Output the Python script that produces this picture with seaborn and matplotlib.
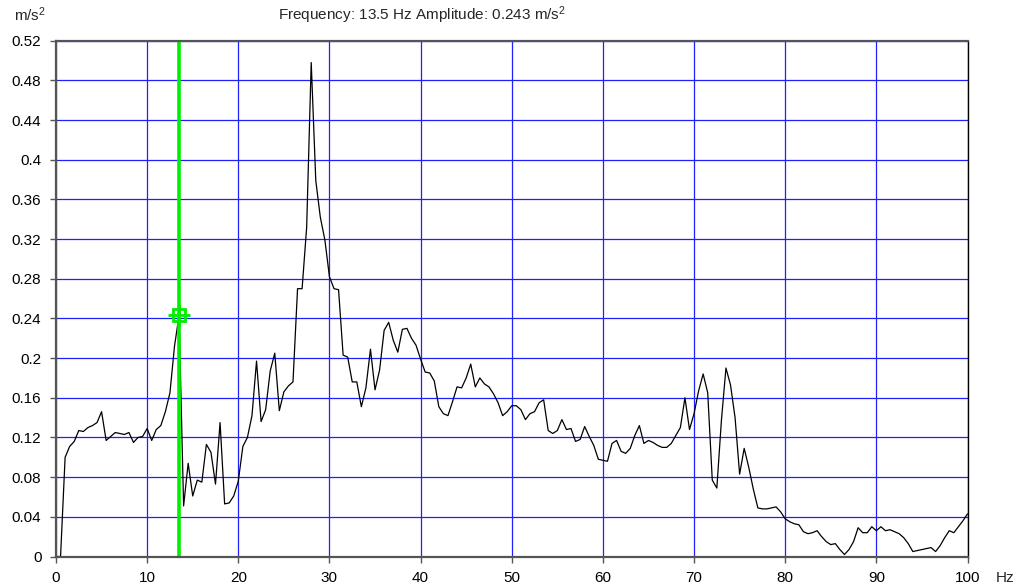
import numpy as np
import pandas as pd
import matplotlib
matplotlib.use("Agg")
import matplotlib.pyplot as plt
from matplotlib.ticker import FuncFormatter
import seaborn as sns

# ---- data ----
freq_step = 0.5
amplitude = [
    0.000, 0.000, 0.100, 0.111, 0.116, 0.127, 0.126, 0.130, 0.132, 0.135,
    0.146, 0.117, 0.121, 0.125, 0.124, 0.123, 0.125, 0.115, 0.120, 0.121,
    0.129, 0.117, 0.128, 0.132, 0.146, 0.165, 0.212, 0.243, 0.051, 0.094,
    0.061, 0.077, 0.075, 0.113, 0.105, 0.073, 0.135, 0.053, 0.054, 0.061,
    0.076, 0.111, 0.120, 0.142, 0.197, 0.136, 0.148, 0.187, 0.205, 0.147,
    0.166, 0.172, 0.176, 0.270, 0.270, 0.332, 0.498, 0.379, 0.342, 0.319,
    0.282, 0.270, 0.269, 0.203, 0.201, 0.176, 0.176, 0.151, 0.170, 0.209,
    0.168, 0.188, 0.228, 0.236, 0.218, 0.206, 0.229, 0.230, 0.220, 0.213,
    0.199, 0.186, 0.185, 0.177, 0.151, 0.144, 0.142, 0.156, 0.171, 0.170,
    0.180, 0.194, 0.171, 0.180, 0.174, 0.171, 0.164, 0.155, 0.142, 0.146,
    0.152, 0.152, 0.148, 0.138, 0.144, 0.146, 0.155, 0.158, 0.127, 0.124,
    0.127, 0.138, 0.128, 0.129, 0.116, 0.118, 0.131, 0.121, 0.112, 0.098,
    0.097, 0.096, 0.114, 0.117, 0.106, 0.104, 0.109, 0.122, 0.132, 0.114,
    0.117, 0.115, 0.112, 0.110, 0.110, 0.114, 0.122, 0.130, 0.160, 0.128,
    0.144, 0.167, 0.184, 0.165, 0.077, 0.069, 0.137, 0.190, 0.173, 0.140,
    0.083, 0.109, 0.090, 0.068, 0.049, 0.048, 0.048, 0.049, 0.050, 0.045,
    0.038, 0.035, 0.033, 0.032, 0.025, 0.023, 0.024, 0.026, 0.020, 0.015,
    0.012, 0.013, 0.007, 0.002, 0.007, 0.015, 0.029, 0.024, 0.024, 0.030,
    0.026, 0.030, 0.026, 0.027, 0.025, 0.023, 0.019, 0.013, 0.005, 0.006,
    0.007, 0.008, 0.009, 0.005, 0.011, 0.019, 0.026, 0.024, 0.030, 0.036,
    0.043,
]
frequency = np.arange(len(amplitude)) * freq_step

cursor_freq = 13.5
cursor_amp = 0.243

x_ticks = [0, 10, 20, 30, 40, 50, 60, 70, 80, 90, 100]
y_ticks = [0, 0.04, 0.08, 0.12, 0.16, 0.2, 0.24, 0.28, 0.32, 0.36, 0.4, 0.44, 0.48, 0.52]

title_text = "Frequency: 13.5 Hz Amplitude: 0.243 m/s$^2$"
y_unit = "m/s$^2$"
x_unit = "Hz"

df = pd.DataFrame({"Frequency": frequency, "Amplitude": amplitude})

# ---- style ----
sns.set_style("white")
plt.rcParams['font.family'] = ['Liberation Sans', 'DejaVu Sans']
plt.rcParams['mathtext.fontset'] = 'custom'
plt.rcParams['mathtext.rm'] = 'Liberation Sans'
plt.rcParams['mathtext.it'] = 'Liberation Sans'

fig = plt.figure(figsize=(10.19, 5.87), dpi=100)
ax = fig.add_axes([56 / 1019, (587 - 556.5) / 587, (967.5 - 56) / 1019, (556.5 - 40.7) / 587])

for yv in y_ticks:
    ax.axhline(yv, color="#2020ff", lw=0.9, zorder=1)
for xv in x_ticks:
    ax.axvline(xv, color="#2020ff", lw=0.9, zorder=1)

sns.lineplot(data=df, x="Frequency", y="Amplitude", ax=ax, color="black", lw=0.9, zorder=3)

ax.axvline(cursor_freq, color="#00ee00", lw=2.6, zorder=4)
ax.plot([cursor_freq], [cursor_amp], marker="s", markersize=9, markerfacecolor="none",
        markeredgecolor="#00ee00", markeredgewidth=2, zorder=5)
ax.plot([cursor_freq], [cursor_amp], marker="+", markersize=16,
        markeredgecolor="#00ee00", markeredgewidth=2, zorder=5)

ax.set_xlim(0, 100)
ax.set_ylim(0, 0.52)
ax.set_xticks(x_ticks)
ax.set_yticks(y_ticks)
ax.yaxis.set_major_formatter(FuncFormatter(lambda v, p: "%g" % round(v, 2)))
ax.set_xlabel("")
ax.set_ylabel("")
ax.tick_params(axis="y", which="major", direction="out", length=4.5, width=1,
               color="#555555", labelsize=11, labelcolor="black", pad=6, left=True)
ax.tick_params(axis="x", which="major", direction="out", length=4.5, width=1,
               color="#555555", labelsize=11, labelcolor="black", pad=6, bottom=True)

for side in ["left", "bottom", "top"]:
    ax.spines[side].set_color("#555555")
    ax.spines[side].set_linewidth(1.6)
ax.spines["right"].set_color("black")
ax.spines["right"].set_linewidth(1.0)
for s in ax.spines.values():
    s.set_zorder(6)

fig.text(14 / 1019, 1 - 15 / 587, y_unit, fontsize=11, ha="left", va="center")
fig.text(996 / 1019, 1 - 578 / 587, x_unit, fontsize=11, ha="left", va="center")
fig.text(278 / 1019, 1 - 15 / 587, title_text, fontsize=11, ha="left", va="center")

fig.savefig("out.png", dpi=100, facecolor="white")
